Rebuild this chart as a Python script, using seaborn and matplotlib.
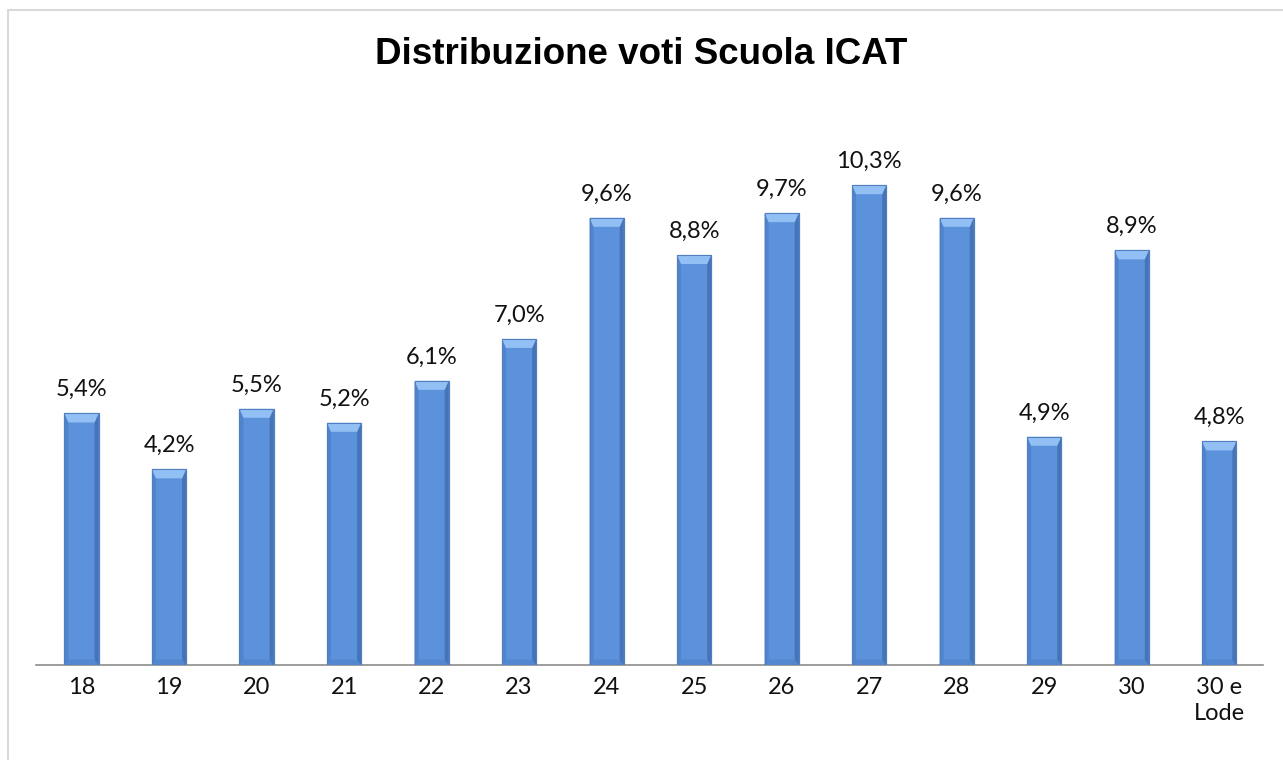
import matplotlib
matplotlib.use("Agg")
import matplotlib.pyplot as plt
import seaborn as sns
import pandas as pd
from matplotlib.patches import Polygon, Rectangle

categories = ["18", "19", "20", "21", "22", "23", "24", "25", "26", "27", "28", "29", "30", "30 e\nLode"]
values = [5.4, 4.2, 5.5, 5.2, 6.1, 7.0, 9.6, 8.8, 9.7, 10.3, 9.6, 4.9, 8.9, 4.8]
labels = ["5,4%", "4,2%", "5,5%", "5,2%", "6,1%", "7,0%", "9,6%", "8,8%", "9,7%", "10,3%", "9,6%", "4,9%", "8,9%", "4,8%"]
title = "Distribuzione voti Scuola ICAT"

sns.set_theme(style="white")
plt.rcParams['font.family'] = ['Lato', 'DejaVu Sans']

W, H = 1283, 760
fig = plt.figure(figsize=(W / 100, H / 100), dpi=100)
ax = fig.add_axes([36 / W, (H - 665) / H, (1263 - 36) / W, (665 - 106) / H])

df = pd.DataFrame({"cat": categories, "val": values})
sns.barplot(data=df, x="cat", y="val", ax=ax, color="#5C91DB", saturation=1,
            width=0.39, edgecolor="#4A78B8", linewidth=0.8, zorder=2)

ax.set_ylim(0, 12)
ax.set_xlim(-0.52, len(categories) - 0.5)

# bevel decoration derived from bar geometry
px_y = 12 / (665 - 106)
px_x = len(categories) / (1263 - 36)
for p in ax.patches:
    x0 = p.get_x(); w = p.get_width(); h = p.get_height()
    x1 = x0 + w
    bh = 9 * px_y
    bw = 4 * px_x
    ax.add_patch(Polygon([(x0, 0), (x0 + bw, 0), (x0 + bw, h - bh), (x0, h)],
                         closed=True, facecolor="#5084CC", edgecolor="none", zorder=3))
    ax.add_patch(Polygon([(x1, 0), (x1 - bw, 0), (x1 - bw, h - bh), (x1, h)],
                         closed=True, facecolor="#4674B6", edgecolor="none", zorder=3))
    ax.add_patch(Polygon([(x0, h), (x1, h), (x1 - bw, h - bh), (x0 + bw, h - bh)],
                         closed=True, facecolor="#93C0F4", edgecolor="none", zorder=3))
    ax.add_patch(Polygon([(x0, 0), (x1, 0), (x1 - bw, bh * 0.6), (x0 + bw, bh * 0.6)],
                         closed=True, facecolor="#5388D0", edgecolor="none", zorder=3))
    ax.add_patch(Rectangle((x0, 0), w, h, facecolor="none", edgecolor="#4F7FC0", linewidth=0.8, zorder=4))

for i, (v, lab) in enumerate(zip(values, labels)):
    ax.annotate(lab, xy=(i, v), xytext=(0, 17), textcoords="offset points",
                ha="center", va="center", fontsize=17, color="#111111")

ax.set_xlabel("")
ax.set_ylabel("")
ax.set_yticks([])
ax.tick_params(axis="x", length=0, pad=9, labelsize=17, labelcolor="#111111")
for t in ax.get_xticklabels():
    t.set_linespacing(1.25)
for s in ["top", "left", "right"]:
    ax.spines[s].set_visible(False)
ax.spines["bottom"].set_color("#8C8C8C")
ax.spines["bottom"].set_linewidth(1.2)
ax.set_facecolor("none")

fig.text(0.5, (H - 55) / H, title, ha="center", va="center", fontsize=26.5,
         fontweight="bold", family=["Liberation Sans", "DejaVu Sans"], color="#000000")

fig.patches.append(Rectangle((7.5 / W, -0.1), 2, (H - 10) / H + 0.1, transform=fig.transFigure,
                             facecolor="none", edgecolor="#D9D9D9", linewidth=1.5, figure=fig))

fig.savefig("out.png", dpi=100)
